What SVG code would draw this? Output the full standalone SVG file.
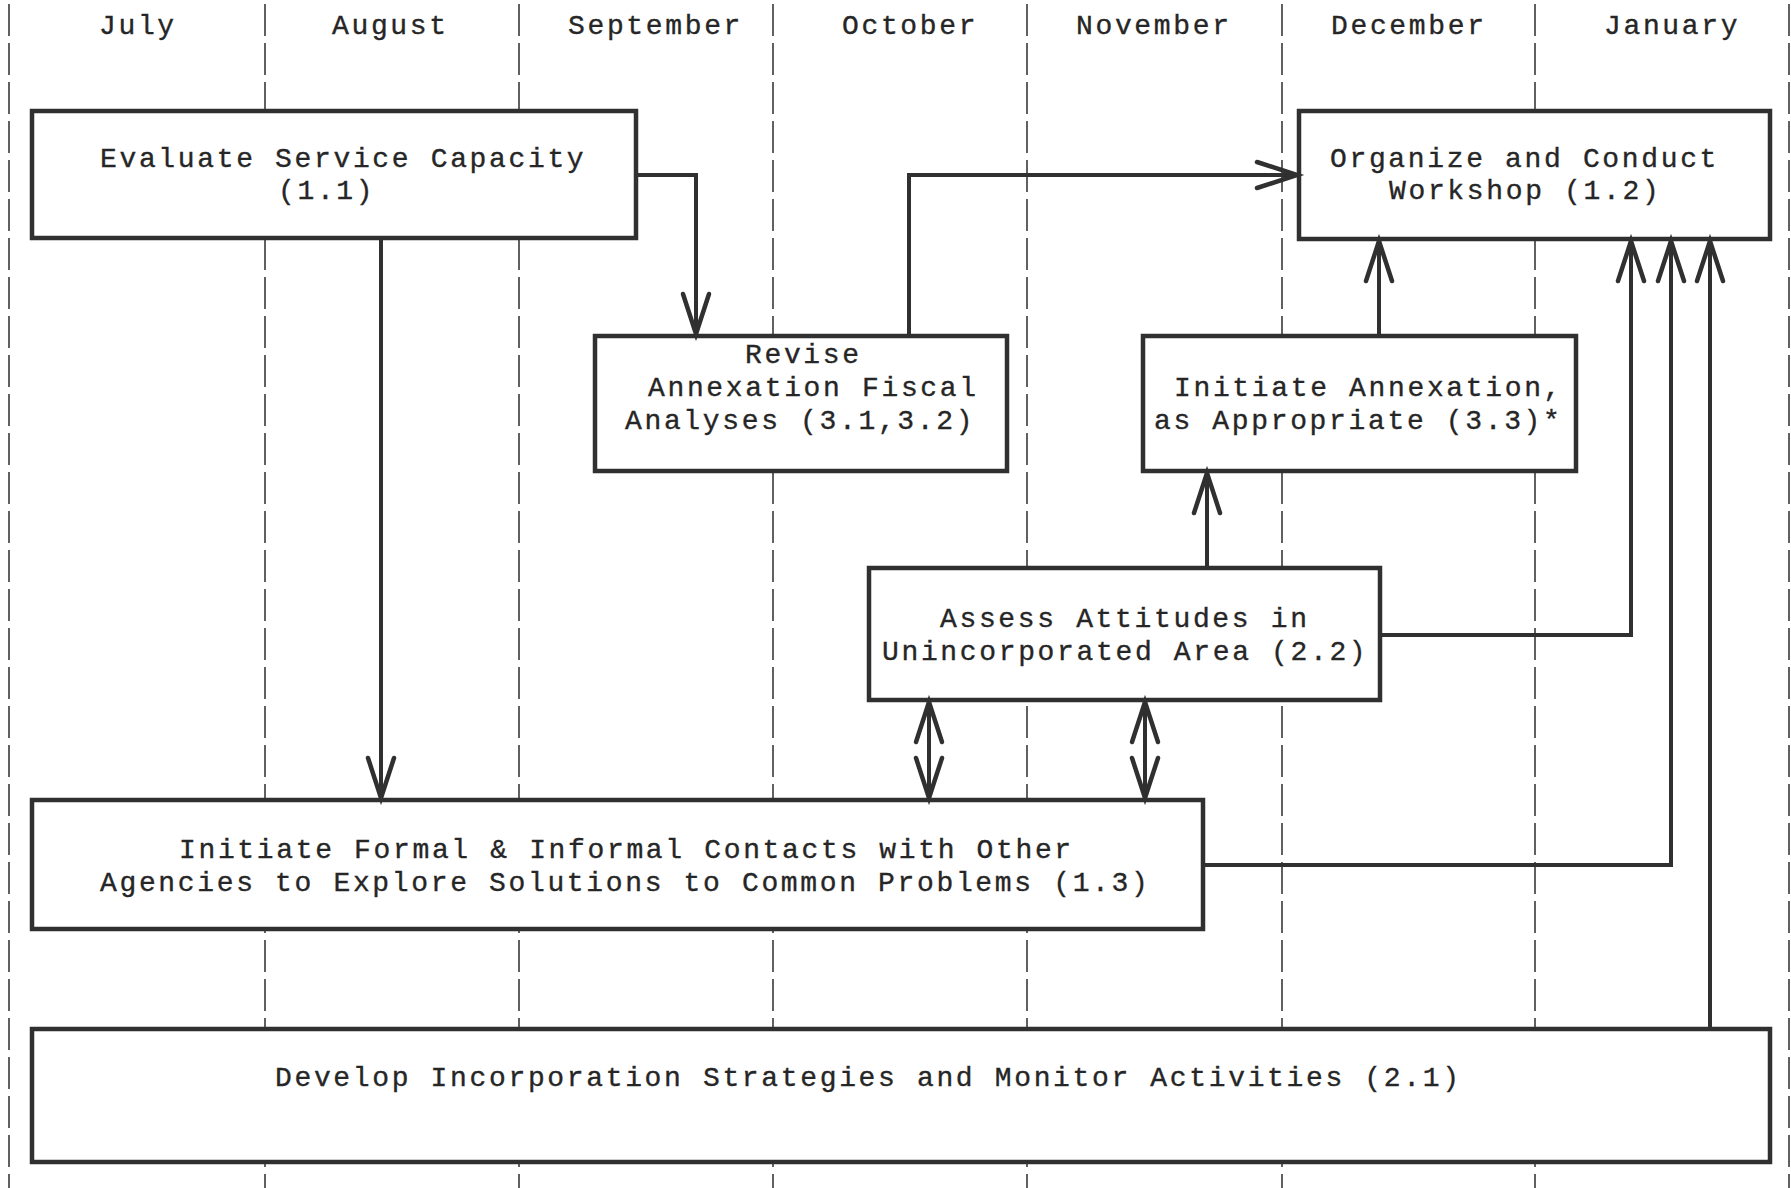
<svg xmlns="http://www.w3.org/2000/svg" width="1791" height="1188" viewBox="0 0 1791 1188">
<style>
.grid{stroke:#3a3a3a;stroke-width:1.6;stroke-dasharray:32 7;fill:none}
.box{fill:#fff;stroke:#303030;stroke-width:4.5}
.t{font-family:"Liberation Mono","Courier New",monospace;font-size:28px;letter-spacing:2.65px;fill:#262626;stroke:#262626;stroke-width:0.35}
.c{fill:none;stroke:#303030;stroke-width:4}
</style>
<defs>
<marker id="ah" markerUnits="userSpaceOnUse" markerWidth="60" markerHeight="40" refX="0" refY="0" viewBox="-46 -20 50 40" orient="auto-start-reverse" overflow="visible">
<path d="M -40 -13 L 0 0 L -40 13" fill="none" stroke="#303030" stroke-width="4.5" stroke-linecap="round" stroke-linejoin="miter"/>
</marker>
</defs>
<rect width="1791" height="1188" fill="#fff"/>
<g id="grid">
<line class="grid" x1="9" y1="4" x2="9" y2="1188"/>
<line class="grid" x1="265" y1="4" x2="265" y2="1188"/>
<line class="grid" x1="519" y1="4" x2="519" y2="1188"/>
<line class="grid" x1="773" y1="4" x2="773" y2="1188"/>
<line class="grid" x1="1027" y1="4" x2="1027" y2="1188"/>
<line class="grid" x1="1282" y1="4" x2="1282" y2="1188"/>
<line class="grid" x1="1535" y1="4" x2="1535" y2="1188"/>
<line class="grid" x1="1789" y1="4" x2="1789" y2="1188"/>
</g>
<g id="months">
<text class="t" x="99" y="34">July</text>
<text class="t" x="332" y="34">August</text>
<text class="t" x="568" y="34">September</text>
<text class="t" x="842" y="34">October</text>
<text class="t" x="1076" y="34">November</text>
<text class="t" x="1331" y="34">December</text>
<text class="t" x="1604" y="34">January</text>
</g>
<g id="n11">
<rect class="box" x="32" y="111" width="604" height="127"/>
<text class="t" x="100" y="167">Evaluate Service Capacity</text>
<text class="t" x="278" y="199">(1.1)</text>
</g>
<g id="n12">
<rect class="box" x="1299" y="111" width="471" height="128"/>
<text class="t" x="1330" y="167">Organize and Conduct</text>
<text class="t" x="1389" y="199">Workshop (1.2)</text>
</g>
<g id="n31">
<rect class="box" x="595" y="336" width="412" height="135"/>
<text class="t" x="745" y="363">Revise</text>
<text class="t" x="648" y="396">Annexation Fiscal</text>
<text class="t" x="625" y="429">Analyses (3.1,3.2)</text>
</g>
<g id="n33">
<rect class="box" x="1143" y="336" width="433" height="135"/>
<text class="t" x="1174" y="396">Initiate Annexation,</text>
<text class="t" x="1154" y="429">as Appropriate (3.3)*</text>
</g>
<g id="n22">
<rect class="box" x="869" y="568" width="511" height="132"/>
<text class="t" x="940" y="627">Assess Attitudes in</text>
<text class="t" x="882" y="660">Unincorporated Area (2.2)</text>
</g>
<g id="n13">
<rect class="box" x="32" y="800" width="1171" height="129"/>
<text class="t" x="179" y="858">Initiate Formal &amp; Informal Contacts with Other</text>
<text class="t" x="100" y="891">Agencies to Explore Solutions to Common Problems (1.3)</text>
</g>
<g id="n21">
<rect class="box" x="32" y="1029" width="1738" height="133"/>
<text class="t" x="275" y="1086">Develop Incorporation Strategies and Monitor Activities (2.1)</text>
</g>
<g id="connectors">
<path class="c" d="M 636 175 H 696 V 334" marker-end="url(#ah)"/>
<path class="c" d="M 381 238 V 798" marker-end="url(#ah)"/>
<path class="c" d="M 909 336 V 175 H 1297" marker-end="url(#ah)"/>
<path class="c" d="M 1379 336 V 241" marker-end="url(#ah)"/>
<path class="c" d="M 1207 568 V 473" marker-end="url(#ah)"/>
<path class="c" d="M 1380 635 H 1631 V 241" marker-end="url(#ah)"/>
<path class="c" d="M 1203 865 H 1671 V 241" marker-end="url(#ah)"/>
<path class="c" d="M 1710 1029 V 241" marker-end="url(#ah)"/>
<path class="c" d="M 929 702 V 798" marker-start="url(#ah)" marker-end="url(#ah)"/>
<path class="c" d="M 1145 702 V 798" marker-start="url(#ah)" marker-end="url(#ah)"/>
</g>
</svg>
